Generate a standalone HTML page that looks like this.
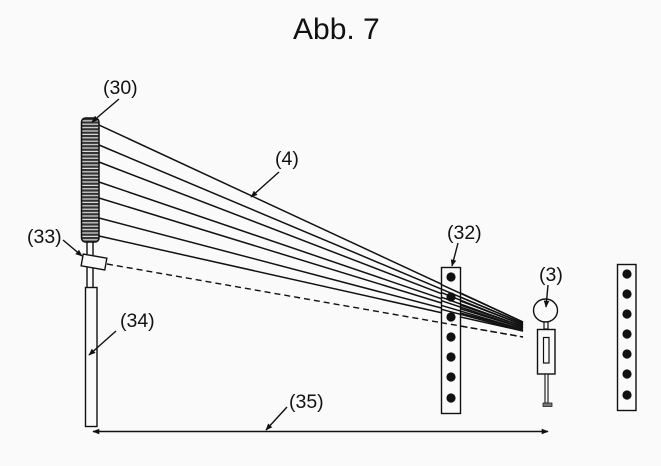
<!DOCTYPE html>
<html><head><meta charset="utf-8"><style>
html,body{margin:0;padding:0;background:#fafafa;}
svg{display:block;}
text{font-family:"Liberation Sans",Arial,sans-serif;fill:#111;}
</style></head><body>
<svg width="661" height="466" viewBox="0 0 661 466" xmlns="http://www.w3.org/2000/svg">
<defs>
<marker id="ah" viewBox="0 0 10 10" refX="9" refY="5" markerWidth="7" markerHeight="7" orient="auto-start-reverse" markerUnits="userSpaceOnUse">
<path d="M0,1 L10,5 L0,9 z" fill="#111"/>
</marker>
<pattern id="stripes" x="0" y="118" width="20" height="3.4" patternUnits="userSpaceOnUse">
<rect width="20" height="3.4" fill="#ddd"/>
<rect width="20" height="2.2" fill="#333"/>
</pattern>
</defs>
<rect width="661" height="466" fill="#fafafa"/>
<text x="293" y="39" font-size="30">Abb. 7</text>

<!-- pole -->
<rect x="87" y="240" width="6" height="48" fill="#fafafa" stroke="#111" stroke-width="1.4"/>
<!-- rod 34 -->
<rect x="85.5" y="287.5" width="11.5" height="139" fill="#fafafa" stroke="#111" stroke-width="1.4"/>
<!-- emitter 30 -->
<rect x="81.5" y="118" width="17.5" height="124" rx="4" fill="url(#stripes)" stroke="#111" stroke-width="1.5"/>

<!-- beams -->
<g stroke="#111" stroke-width="1.5" fill="none">
<line x1="99" y1="125" x2="523" y2="322"/>
<line x1="99" y1="145" x2="523" y2="323.5"/>
<line x1="99" y1="162" x2="523" y2="325"/>
<line x1="99" y1="182" x2="523" y2="326.5"/>
<line x1="99" y1="198" x2="523" y2="328"/>
<line x1="99" y1="218" x2="523" y2="329.5"/>
<line x1="99" y1="236" x2="523" y2="331"/>
</g>
<line x1="107" y1="264" x2="523" y2="337" stroke="#111" stroke-width="1.4" stroke-dasharray="6,4"/>

<!-- box 33 -->
<rect x="-12" y="-6" width="24" height="12" fill="#fafafa" stroke="#111" stroke-width="1.4" transform="translate(94,262) rotate(10)"/>

<!-- panel 32 -->
<rect x="441.5" y="267.5" width="19" height="146" fill="#fafafa" stroke="#111" stroke-width="1.4"/>
<g fill="#111">
<circle cx="451" cy="277" r="4.6"/>
<circle cx="451" cy="297" r="4.6"/>
<circle cx="451" cy="317" r="4.6"/>
<circle cx="451" cy="337" r="4.6"/>
<circle cx="451" cy="357" r="4.6"/>
<circle cx="451" cy="377" r="4.6"/>
<circle cx="451" cy="398" r="4.6"/>
</g>
<g stroke="#111" stroke-width="1.5" fill="none">
<line x1="441" y1="284.4" x2="523" y2="322"/>
<line x1="441" y1="288.9" x2="523" y2="323.5"/>
<line x1="441" y1="292.4" x2="523" y2="325"/>
<line x1="441" y1="297.1" x2="523" y2="326.5"/>
<line x1="441" y1="300.6" x2="523" y2="328"/>
<line x1="441" y1="305.3" x2="523" y2="329.5"/>
<line x1="441" y1="309.2" x2="523" y2="331"/>
</g>
<line x1="441" y1="322.6" x2="523" y2="337" stroke="#111" stroke-width="1.4" stroke-dasharray="6,4"/>

<!-- right panel -->
<rect x="617.5" y="264.5" width="18.5" height="146" fill="#fafafa" stroke="#111" stroke-width="1.4"/>
<g fill="#111">
<circle cx="627" cy="274" r="4.6"/>
<circle cx="627" cy="294" r="4.6"/>
<circle cx="627" cy="314" r="4.6"/>
<circle cx="627" cy="334" r="4.6"/>
<circle cx="627" cy="354" r="4.6"/>
<circle cx="627" cy="374" r="4.6"/>
<circle cx="627" cy="395" r="4.6"/>
</g>

<!-- person 3 -->
<ellipse cx="545.5" cy="310.5" rx="12" ry="11.5" fill="#fafafa" stroke="#111" stroke-width="1.4"/>
<rect x="544" y="322" width="4" height="7" fill="#fafafa" stroke="#111" stroke-width="1.2"/>
<rect x="537.5" y="329.5" width="17.5" height="44.5" fill="#fafafa" stroke="#111" stroke-width="1.4"/>
<rect x="543.5" y="337.5" width="5.5" height="25.5" fill="#fafafa" stroke="#111" stroke-width="1.2"/>
<rect x="545" y="374" width="3" height="29" fill="#fafafa" stroke="#111" stroke-width="1.1"/>
<rect x="543" y="403" width="9" height="3.5" fill="#777" stroke="#222" stroke-width="0.8"/>

<!-- dimension arrow 35 -->
<line x1="93" y1="431.5" x2="548" y2="431.5" stroke="#111" stroke-width="1.4" marker-start="url(#ah)" marker-end="url(#ah)"/>

<!-- labels & leaders -->
<g stroke="#111" stroke-width="1.4" fill="none" marker-end="url(#ah)">
<line x1="119" y1="99" x2="92" y2="122"/>
<line x1="279" y1="172" x2="251" y2="197"/>
<line x1="63" y1="240" x2="82" y2="256"/>
<line x1="116" y1="331" x2="89" y2="355"/>
<line x1="458" y1="243" x2="452" y2="266"/>
<line x1="548" y1="285" x2="546" y2="307"/>
<line x1="287" y1="407" x2="266" y2="430"/>
</g>
<g font-size="19.5">
<text x="103" y="94">(30)</text>
<text x="275" y="165">(4)</text>
<text x="27" y="243">(33)</text>
<text x="120" y="327">(34)</text>
<text x="447" y="239">(32)</text>
<text x="539" y="281">(3)</text>
<text x="289" y="408">(35)</text>
</g>
</svg>
</body></html>
